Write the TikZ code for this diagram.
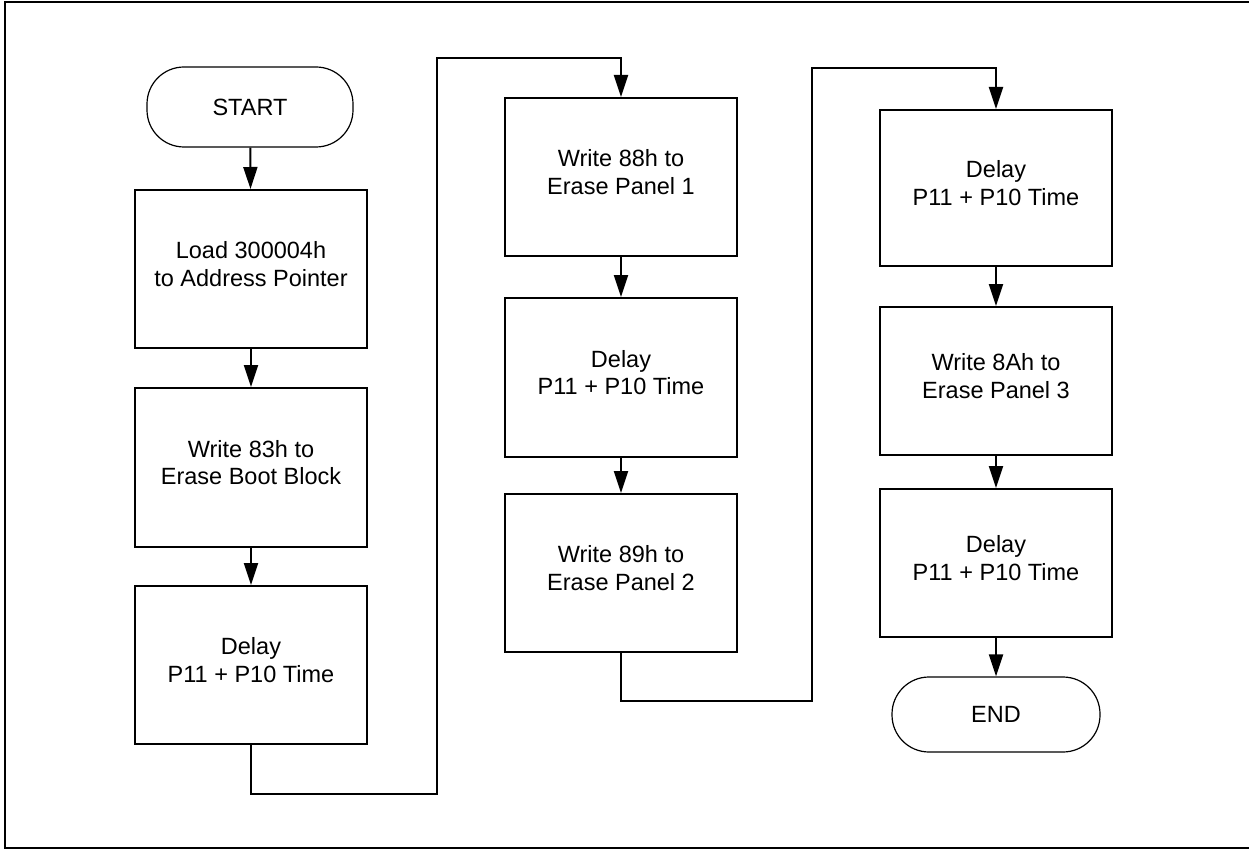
\documentclass[tikz,border=0pt]{standalone}
\usepackage{fontspec}
\setmainfont{Liberation Sans}
\usetikzlibrary{arrows.meta}
\tikzset{
  flowbox/.style={draw, line width=2pt, minimum width=232pt, inner sep=0pt,
    font=\fontsize{23.5}{27.5}\selectfont},
  term/.style={draw, line width=1.2pt, rounded corners=37pt, inner sep=0pt,
    font=\fontsize{23.5}{27.5}\selectfont},
  flow/.style={line width=2pt, -{Triangle[length=22pt,width=14pt]}},
  wire/.style={line width=2pt},
}
% two-line box caption, lifted a little above the box centre
\newcommand\boxtext[1]{\raisebox{2pt}[\height][\depth]{\begin{tabular}{@{}c@{}}#1\end{tabular}}}
\begin{document}
\begin{tikzpicture}[x=1pt, y=-1pt]
\useasboundingbox (0,0) rectangle (1249,850);
% frame
\draw[wire] (1249,2.5) -- (5,2.5) -- (5,848) -- (1249,848);

% first column
\node[term, minimum width=206pt, minimum height=80pt] (start) at (250,107) {START};
\node[flowbox, minimum height=158pt] (a1) at (251,269) {\boxtext{Load 300004h\\to Address Pointer}};
\node[flowbox, minimum height=159pt] (a2) at (251,467.5) {\boxtext{Write 83h to\\Erase Boot Block}};
\node[flowbox, minimum height=158pt] (a3) at (251,665) {\boxtext{Delay\\P11 + P10 Time}};

% second column
\node[flowbox, minimum height=158pt] (b1) at (621,177) {\boxtext{Write 88h to\\Erase Panel 1}};
\node[flowbox, minimum height=159pt] (b2) at (621,377.5) {\boxtext{Delay\\P11 + P10 Time}};
\node[flowbox, minimum height=158pt] (b3) at (621,573) {\boxtext{Write 89h to\\Erase Panel 2}};

% third column
\node[flowbox, minimum height=156pt] (c1) at (996,188) {\boxtext{Delay\\P11 + P10 Time}};
\node[flowbox, minimum height=148pt] (c2) at (996,381) {\boxtext{Write 8Ah to\\Erase Panel 3}};
\node[flowbox, minimum height=148pt] (c3) at (996,563) {\boxtext{Delay\\P11 + P10 Time}};
\node[term, minimum width=208pt, minimum height=75pt] (end) at (996,714.5) {END};

% routing points between columns
\coordinate (ja) at (437,794);
\coordinate (jb) at (437,58);
\coordinate (jc) at (812,701);
\coordinate (jd) at (812,68);

% arrows
\draw[flow] (start) -- (a1);
\draw[flow] (a1) -- (a2);
\draw[flow] (a2) -- (a3);
\draw[flow] (a3.south) |- (ja) -- (jb) -| (b1.north);
\draw[flow] (b1) -- (b2);
\draw[flow] (b2) -- (b3);
\draw[flow] (b3.south) |- (jc) -- (jd) -| (c1.north);
\draw[flow] (c1) -- (c2);
\draw[flow] (c2) -- (c3);
\draw[flow] (c3) -- (end);
\end{tikzpicture}
\end{document}
